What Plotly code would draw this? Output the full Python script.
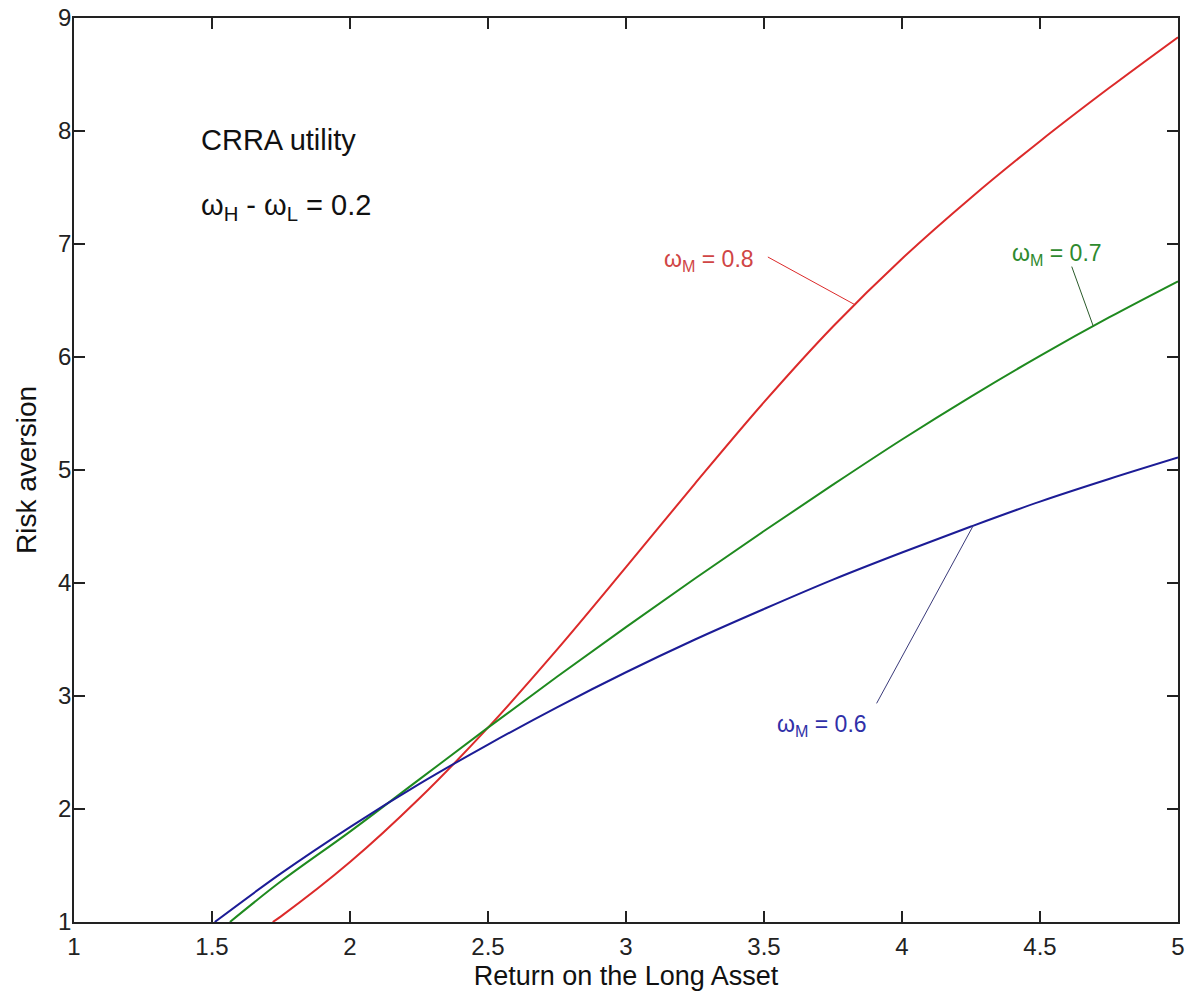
import numpy as np
import plotly.graph_objects as go

# Data
x_06 = [1.51, 1.75, 2.0, 2.25, 2.5, 2.75, 3.0, 3.25, 3.5, 3.75, 4.0, 4.25, 4.5, 4.75, 5.0]
y_06 = [1.0, 1.43, 1.84, 2.22, 2.57, 2.90, 3.21, 3.50, 3.77, 4.03, 4.27, 4.50, 4.72, 4.92, 5.11]

x_07 = [1.565, 1.75, 2.0, 2.25, 2.5, 2.75, 3.0, 3.25, 3.5, 3.75, 4.0, 4.25, 4.5, 4.75, 5.0]
y_07 = [1.0, 1.36, 1.80, 2.26, 2.72, 3.17, 3.61, 4.04, 4.46, 4.87, 5.27, 5.65, 6.01, 6.35, 6.67]

x_08 = [1.72, 1.75, 2.0, 2.25, 2.5, 2.75, 3.0, 3.25, 3.5, 3.75, 4.0, 4.25, 4.5, 4.75, 5.0]
y_08 = [1.0, 1.05, 1.53, 2.09, 2.72, 3.41, 4.14, 4.88, 5.60, 6.27, 6.87, 7.41, 7.91, 8.38, 8.83]

x_ticks = [1, 1.5, 2, 2.5, 3, 3.5, 4, 4.5, 5]
y_ticks = [1, 2, 3, 4, 5, 6, 7, 8, 9]

FONT = "Arial, Liberation Sans, Helvetica, sans-serif"
RED = "#dc2a2a"
GREEN = "#1f8a1f"
BLUE = "#1c1c96"

fig = go.Figure()
for xs, ys, col in [(x_08, y_08, RED), (x_07, y_07, GREEN), (x_06, y_06, BLUE)]:
    fig.add_trace(go.Scatter(x=xs, y=ys, mode="lines",
                             line=dict(color=col, width=2, shape="spline", smoothing=1.0),
                             showlegend=False, hoverinfo="skip"))

# Leader lines: (label end x, label end y, curve x, curve data)
leaders = [
    (3.514, 6.885, 3.83, x_08, y_08, RED),
    (4.615, 6.80, 4.693, x_07, y_07, "#2a5a2a"),
    (3.908, 2.935, 4.258, x_06, y_06, "#3a3a7a"),
]
for lx, ly, cx, xs, ys, col in leaders:
    cy = float(np.interp(cx, xs, ys))
    fig.add_shape(type="line", xref="x", yref="y", x0=lx, y0=ly, x1=cx, y1=cy,
                  line=dict(color=col, width=1))

labels = [
    ("ω<sub>M</sub> = 0.8", 3.132, 6.85, "#d04545"),
    ("ω<sub>M</sub> = 0.7", 4.39, 6.91, "#2e8a2e"),
    ("ω<sub>M</sub> = 0.6", 3.54, 2.74, "#3030a8"),
]
for txt, x, y, col in labels:
    fig.add_annotation(x=x, y=y, xref="x", yref="y", text=txt, showarrow=False,
                       xanchor="left", yanchor="middle",
                       font=dict(family=FONT, size=23, color=col))

fig.add_annotation(x=1.454, y=7.92, xref="x", yref="y", text="CRRA utility",
                   showarrow=False, xanchor="left", yanchor="middle",
                   font=dict(family=FONT, size=29, color="#111111"))
fig.add_annotation(x=1.454, y=7.33, xref="x", yref="y",
                   text="ω<sub>H</sub> - ω<sub>L</sub> = 0.2",
                   showarrow=False, xanchor="left", yanchor="middle",
                   font=dict(family=FONT, size=29, color="#111111"))

# y-axis title as rotated annotation for precise placement
fig.add_annotation(x=0, y=0.5, xref="paper", yref="paper", text="Risk aversion",
                   showarrow=False, textangle=-90, xanchor="center", yanchor="middle",
                   xshift=-48, font=dict(family=FONT, size=28, color="#111111"))

axis_common = dict(
    showline=True, linecolor="#222222", linewidth=1.5, mirror="ticks",
    ticks="inside", ticklen=11, tickwidth=1.5, tickcolor="#222222",
    showgrid=False, zeroline=False, automargin=False,
    tickfont=dict(family=FONT, size=24, color="#222222"),
)

fig.update_xaxes(range=[1, 5], tickvals=x_ticks, ticktext=[f"{v:g}" for v in x_ticks],
                 ticklabelstandoff=2,
                 title=dict(text="Return on the Long Asset",
                            font=dict(family=FONT, size=27, color="#111111"), standoff=8),
                 **axis_common)
fig.update_yaxes(range=[1, 9], tickvals=y_ticks, ticktext=[str(v) for v in y_ticks],
                 ticklabelstandoff=-4,
                 **axis_common)

fig.update_layout(width=1198, height=1000,
                  margin=dict(l=74, r=20, t=18, b=78),
                  paper_bgcolor="white", plot_bgcolor="white")

fig.write_html("out.html", config={"displayModeBar": False},
               post_script="document.body.style.margin='0';document.body.style.overflow='hidden';")
